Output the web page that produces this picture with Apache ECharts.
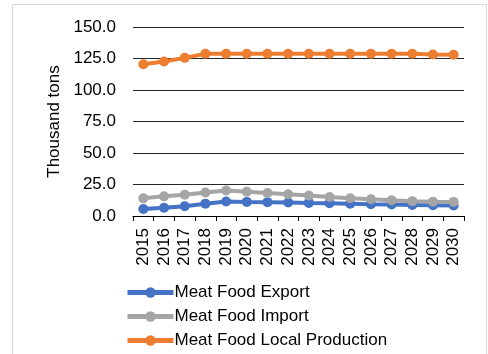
<!DOCTYPE html>
<html>
<head>
<meta charset="utf-8">
<script src="https://cdn.jsdelivr.net/npm/echarts@6/dist/echarts.min.js"></script>
<style>
  html, body { margin: 0; padding: 0; background: #fff; }
  #main { width: 488px; height: 354px; }
</style>
</head>
<body>
<div id="main"></div>
<script>
// data
var years = ['2015', '2016', '2017', '2018', '2019', '2020', '2021', '2022',
  '2023', '2024', '2025', '2026', '2027', '2028', '2029', '2030'];
var exportVals = [5.5, 6.5, 7.8, 9.8, 11.5, 11.2, 11.0, 10.7, 10.4, 10.2, 9.8, 9.4, 9.1, 8.8, 8.5, 8.3];
var importVals = [14.0, 15.6, 16.9, 18.7, 20.3, 19.3, 18.3, 17.2, 16.2, 15.1, 14.1, 13.3, 12.5, 11.8, 11.4, 11.2];
var localVals = [120.5, 122.6, 125.5, 128.8, 128.8, 128.8, 128.8, 128.8, 128.8, 128.8, 128.8, 128.8, 128.8, 128.8, 128.2, 128.0];

var font = 'Liberation Sans';

function lineSeries(name, color, values) {
  return {
    name: name,
    type: 'line',
    data: values,
    symbol: 'circle',
    symbolSize: 10,
    itemStyle: { color: color },
    lineStyle: { color: color, width: 4 }
  };
}

var myChart = echarts.init(document.getElementById('main'));
myChart.setOption({
  animation: false,
  backgroundColor: '#fff',
  textStyle: { fontFamily: font },
  graphic: [{
    type: 'rect',
    shape: { x: 12.5, y: 4.5, width: 474, height: 360 },
    style: { fill: 'none', stroke: '#d9d9d9', lineWidth: 1 },
    silent: true
  }],
  grid: { left: 133, right: 24, top: 27, bottom: 138 },
  legend: {
    orient: 'vertical',
    left: 125,
    top: 284,
    padding: 0,
    itemWidth: 46,
    itemHeight: 13,
    itemGap: 7,
    lineStyle: { width: 5 },
    textStyle: { fontFamily: font, fontSize: 17, color: '#000', padding: [0, 0, 0, -4] },
    data: ['Meat Food Export', 'Meat Food Import', 'Meat Food Local Production']
  },
  xAxis: {
    type: 'category',
    data: years,
    boundaryGap: true,
    axisLine: { lineStyle: { color: '#000', width: 1 } },
    axisTick: { show: true, length: 5, lineStyle: { color: '#000' } },
    axisLabel: { rotate: 90, fontSize: 17, color: '#000', margin: 12, interval: 0 }
  },
  yAxis: {
    type: 'value',
    min: 0,
    max: 150,
    interval: 25,
    name: 'Thousand tons',
    nameLocation: 'middle',
    nameGap: 70,
    nameTextStyle: { fontSize: 17, color: '#000', fontFamily: font },
    axisLine: { show: false },
    axisTick: { show: false },
    axisLabel: {
      fontSize: 17, color: '#000', margin: 17,
      formatter: function (v) { return v.toFixed(1); }
    },
    splitLine: { lineStyle: { color: '#262626', width: 1 } }
  },
  series: [
    lineSeries('Meat Food Export', '#4472C4', exportVals),
    lineSeries('Meat Food Import', '#A5A5A5', importVals),
    lineSeries('Meat Food Local Production', '#ED7D31', localVals)
  ]
});
</script>
</body>
</html>
